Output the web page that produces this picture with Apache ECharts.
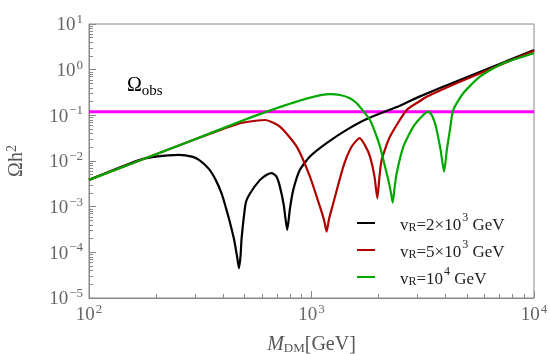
<!DOCTYPE html>
<html><head><meta charset="utf-8">
<script src="https://cdn.jsdelivr.net/npm/echarts@6/dist/echarts.min.js"></script>
<style>html,body{margin:0;padding:0;background:#fff}#c{width:550px;height:354px}</style>
</head><body><div id="c"></div>
<script>
// ---- data ----
const massBlack = [100,168,200,254,290,312,345,371,395,411,430,449,463,472,480,485,506,530,587,630,662,695,721,750,778,800,828,887,984,1169,1438,1800,2500,3076,4645,7000,10000];
const omegaBlack = [3.86e-3,0.0105,0.0125,0.0136,0.0125,0.0106,0.0068,3.86e-3,1.9e-3,1.0e-3,4.5e-4,1.88e-4,8e-5,4.5e-5,8.5e-5,2.0e-4,1.19e-3,1.97e-3,3.86e-3,5.0e-3,5.4e-3,4.6e-3,2.75e-3,1.1e-3,3.1e-4,9e-4,2.33e-3,6.4e-3,0.0125,0.0245,0.048,0.086,0.163,0.26,0.596,1.33,2.7];

const massRed = [100,200,300,371,477,560,620,721,858,984,1091,1140,1169,1200,1253,1390,1516,1645,1740,1832,1920,1976,2020,2067,2253,2678,3076,3291,4645,7000,10000];
const omegaRed = [3.86e-3,0.0141,0.030,0.044,0.067,0.076,0.079,0.0566,0.0207,4.56e-3,1.0e-3,5e-4,2.85e-4,5.5e-4,1.19e-3,7.55e-3,0.0207,0.0316,0.022,0.0125,4.5e-3,1.53e-3,4.5e-3,0.0106,0.0342,0.131,0.206,0.256,0.546,1.25,2.6];

const massGreen = [100,200,300,477,673,950,1211,1343,1489,1597,1700,1832,1940,2032,2120,2214,2280,2317,2360,2414,2587,2869,3180,3350,3467,3590,3652,3800,3943,4060,4190,4335,4808,5715,7278,10000];
const omegaGreen = [3.86e-3,0.0141,0.030,0.073,0.135,0.232,0.29,0.279,0.237,0.184,0.128,0.079,0.04,0.0207,9e-3,3.86e-3,1.9e-3,1.23e-3,2.5e-3,5.4e-3,0.0207,0.0566,0.102,0.12,0.102,0.067,0.048,0.018,5.86e-3,0.018,0.048,0.131,0.305,0.703,1.38,2.29];

const massObs = [100,10000];
const omegaObs = [0.12,0.12];

const xMajor = [100,1000,10000];
const xMinor = [200,300,400,500,600,700,800,900,2000,3000,4000,5000,6000,7000,8000,9000];
const yMajor = [1e-5,1e-4,1e-3,1e-2,1e-1,1,10];
const yMinor = [2e-5,3e-5,4e-5,5e-5,6e-5,7e-5,8e-5,9e-5,
                2e-4,3e-4,4e-4,5e-4,6e-4,7e-4,8e-4,9e-4,
                2e-3,3e-3,4e-3,5e-3,6e-3,7e-3,8e-3,9e-3,
                2e-2,3e-2,4e-2,5e-2,6e-2,7e-2,8e-2,9e-2,
                0.2,0.3,0.4,0.5,0.6,0.7,0.8,0.9,
                2,3,4,5,6,7,8,9];
const legendNames = ['vR=2×10^3 GeV','vR=5×10^3 GeV','vR=10^4 GeV'];
const legendRich = ['{n|v}{s|R}{n|=2×10}{p|3}{n| GeV}','{n|v}{s|R}{n|=5×10}{p|3}{n| GeV}','{n|v}{s|R}{n|=10}{p|4}{n| GeV}'];

// ---- chart ----
const FONT = 'Liberation Serif';
const AX = '#888';
const zip = (a,b) => a.map((v,i)=>[v,b[i]]);
const supLabel = v => {
  const e = Math.round(Math.log10(v));
  return '{b|10}{p|' + (e < 0 ? '−' + (-e) : e) + '}';
};
const labelRich = {
  b: {fontSize: 19, fontFamily: FONT, color: '#666', lineHeight: 22, verticalAlign: 'bottom'},
  p: {fontSize: 13, fontFamily: FONT, color: '#666', lineHeight: 22, verticalAlign: 'top', padding:[0,0,0,1]}
};
const chart = echarts.init(document.getElementById('c'), null, {renderer: 'canvas'});
const lineSeries = (name, data, color, w) => ({
  name, type: 'line', data, showSymbol: false, symbol: 'none', smooth: 0.2,
  lineStyle: {color, width: w}, itemStyle: {color}, animation: false, silent: true
});
chart.setOption({
  animation: false,
  grid: {left: 89, right: 16, top: 24, bottom: 56, show: true, borderColor: AX, borderWidth: 1,
         containLabel: false, outerBoundsMode: 'none'},
  xAxis: [
    {type: 'log', logBase: 10, min: 100, max: 10000, position: 'bottom',
     name: '{i|M}{s|DM}{n|[GeV]}', nameLocation: 'middle', nameGap: 35,
     nameTextStyle: {rich: {
       i: {fontSize: 20, fontFamily: FONT, fontStyle: 'italic', color: '#555', lineHeight: 22, verticalAlign: 'bottom'},
       s: {fontSize: 13, fontFamily: FONT, color: '#555', lineHeight: 22, verticalAlign: 'bottom'},
       n: {fontSize: 20, fontFamily: FONT, color: '#555', lineHeight: 22, verticalAlign: 'bottom'}}},
     axisLine: {show: true, lineStyle: {color: AX}},
     axisTick: {show: true, inside: true, length: 7, customValues: xMajor, lineStyle: {color: AX}},
     axisLabel: {show: true, customValues: xMajor, margin: 5, formatter: supLabel, rich: labelRich},
     splitLine: {show: false}},
    {type: 'log', logBase: 10, min: 100, max: 10000, position: 'bottom',
     axisLine: {show: false},
     axisTick: {show: true, inside: true, length: 4, customValues: xMinor, lineStyle: {color: AX}},
     axisLabel: {show: false}, splitLine: {show: false}}
  ],
  yAxis: [
    {type: 'log', logBase: 10, min: 1e-5, max: 10, position: 'left',
     name: '{o|Ωh}{p|2}', nameLocation: 'middle', nameGap: 62, nameRotate: 90,
     nameTextStyle: {rich: {
       o: {fontSize: 20, fontFamily: FONT, color: '#555', lineHeight: 22, verticalAlign: 'bottom'},
       p: {fontSize: 14, fontFamily: FONT, color: '#555', lineHeight: 22, verticalAlign: 'top'}}},
     axisLine: {show: true, lineStyle: {color: AX}},
     axisTick: {show: true, inside: true, length: 7, customValues: yMajor, lineStyle: {color: AX}},
     axisLabel: {show: true, customValues: yMajor, margin: 6, formatter: supLabel, rich: labelRich},
     splitLine: {show: false}},
    {type: 'log', logBase: 10, min: 1e-5, max: 10, position: 'left',
     axisLine: {show: false},
     axisTick: {show: true, inside: true, length: 4, customValues: yMinor, lineStyle: {color: AX}},
     axisLabel: {show: false}, splitLine: {show: false}}
  ],
  legend: {
    orient: 'vertical', left: 352, top: 207, itemWidth: 18, itemHeight: 2, itemGap: 5, icon: 'rect',
    data: legendNames,
    formatter: name => legendRich[legendNames.indexOf(name)],
    textStyle: {padding: [0,0,0,20], rich: {
      n: {fontSize: 17, fontFamily: FONT, color: '#222', lineHeight: 22, verticalAlign: 'bottom'},
      s: {fontSize: 12, fontFamily: FONT, color: '#222', lineHeight: 22, verticalAlign: 'bottom'},
      p: {fontSize: 12, fontFamily: FONT, color: '#222', lineHeight: 22, verticalAlign: 'top', padding:[0,0,0,1]}}}
  },
  graphic: [{type: 'text', left: 127, top: 76, silent: true,
    style: {text: '{a|Ω}{b|obs}', rich: {
      a: {fontSize: 20, fontFamily: FONT, fill: '#000', lineHeight: 22, verticalAlign: 'bottom'},
      b: {fontSize: 15, fontFamily: FONT, fill: '#000', lineHeight: 22, verticalAlign: 'bottom', padding:[0,0,-3,0]}}}}],
  series: [
    lineSeries('obs', zip(massObs, omegaObs), '#ff00ff', 3),
    lineSeries(legendNames[0], zip(massBlack, omegaBlack), '#000000', 2.2),
    lineSeries(legendNames[1], zip(massRed, omegaRed), '#b00000', 2.2),
    lineSeries(legendNames[2], zip(massGreen, omegaGreen), '#00a800', 2.2)
  ]
});
</script></body></html>
